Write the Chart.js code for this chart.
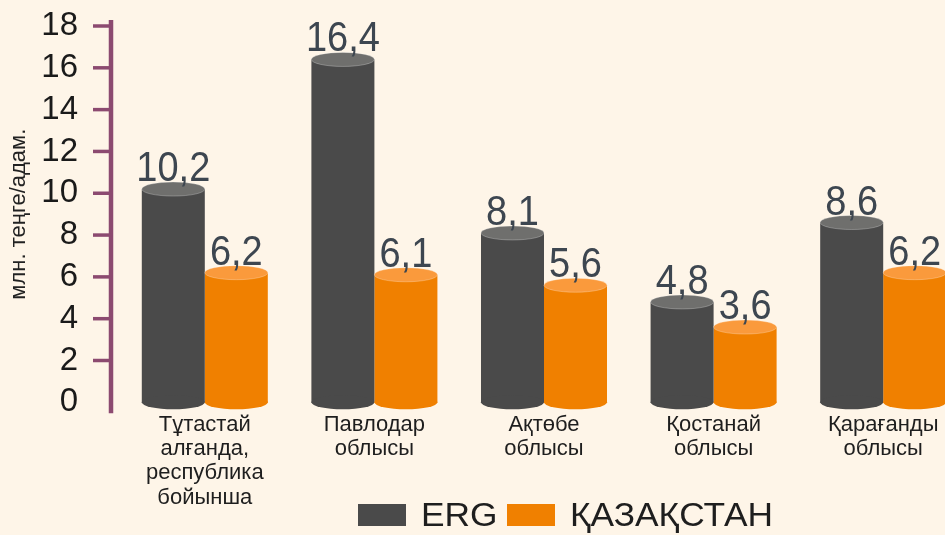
<!DOCTYPE html>
<html>
<head>
<meta charset="utf-8">
<script src="https://cdn.jsdelivr.net/npm/chart.js@4"></script>
<style>
  html, body { margin: 0; padding: 0; background: #fef5e8; overflow: hidden; }
  #wrap { position: relative; width: 945px; height: 535px; overflow: hidden; }
  #legend { position: absolute; left: 358px; top: 496px; display: flex; align-items: center;
    font-family: "Liberation Sans", Arial, sans-serif; font-size: 33px; color: #1e1e1e; }
  #legend span.box { display: inline-block; width: 48px; height: 22px; }
  #legend span.txt { display: inline-block; transform: scaleX(1.07); transform-origin: left center; }
</style>
</head>
<body>
<div id="wrap">
  <canvas id="chart" width="980" height="535"></canvas>
  <div id="legend"></div>
</div>
<script>
const categories = [
  ['Тұтастай', 'алғанда,', 'республика', 'бойынша'],
  ['Павлодар', 'облысы'],
  ['Ақтөбе', 'облысы'],
  ['Қостанай', 'облысы'],
  ['Қарағанды', 'облысы']
];
const seriesNames = ['ERG', 'ҚАЗАҚСТАН'];
const ergValues = [10.2, 16.4, 8.1, 4.8, 8.6];
const kzValues = [6.2, 6.1, 5.6, 3.6, 6.2];
const yTicks = [2, 4, 6, 8, 10, 12, 14, 16, 18];

const bodyColors = ['#4a4a4a', '#f08000'];
const topColors = ['#6f6f6d', '#fa9a3c'];
const axisColor = '#8c4a70';

// cylinder caps + value labels
const cylinders = {
  id: 'cylinders',
  afterDatasetsDraw(chart) {
    const ctx = chart.ctx;
    const ry = 7;
    const labels = [];
    chart.data.datasets.forEach((ds, i) => {
      const meta = chart.getDatasetMeta(i);
      meta.data.forEach((bar, j) => {
        const p = bar.getProps(['x', 'y', 'base', 'width'], true);
        const rx = p.width / 2;
        ctx.save();
        ctx.fillStyle = bodyColors[i];
        ctx.beginPath();
        ctx.ellipse(p.x, p.base, rx, ry, 0, 0, Math.PI * 2);
        ctx.fill();
        ctx.fillStyle = topColors[i];
        ctx.beginPath();
        ctx.ellipse(p.x, p.y, rx, ry, 0, 0, Math.PI * 2);
        ctx.fill();
        ctx.strokeStyle = 'rgba(255,255,255,0.25)';
        ctx.lineWidth = 1;
        ctx.stroke();
        ctx.restore();
        labels.push({ x: p.x, y: p.y - ry - 1, text: String(ds.data[j]).replace('.', ',') });
      });
    });
    ctx.save();
    ctx.font = '40px "Liberation Sans", Arial, sans-serif';
    ctx.fillStyle = '#3d4650';
    ctx.textAlign = 'center';
    ctx.textBaseline = 'alphabetic';
    labels.forEach(l => {
      ctx.save();
      ctx.translate(l.x, l.y);
      ctx.scale(0.95, 1.05);
      ctx.fillText(l.text, 0, 0);
      ctx.restore();
    });
    ctx.restore();
  }
};

// purple y axis line with tick marks
const yAxisLine = {
  id: 'yAxisLine',
  afterDraw(chart) {
    const ctx = chart.ctx;
    const y = chart.scales.y;
    const x0 = chart.chartArea.left - 9;
    ctx.save();
    ctx.strokeStyle = axisColor;
    ctx.lineWidth = 4.5;
    ctx.beginPath();
    ctx.moveTo(x0, y.getPixelForValue(18) - 6);
    ctx.lineTo(x0, y.getPixelForValue(0) + 11);
    ctx.stroke();
    ctx.lineWidth = 3.5;
    yTicks.forEach(v => {
      const py = y.getPixelForValue(v);
      ctx.beginPath();
      ctx.moveTo(x0 - 18, py);
      ctx.lineTo(x0, py);
      ctx.stroke();
    });
    ctx.restore();
  }
};

new Chart(document.getElementById('chart'), {
  type: 'bar',
  data: {
    labels: categories,
    datasets: [
      { label: seriesNames[0], data: ergValues, backgroundColor: bodyColors[0], borderWidth: 0 },
      { label: seriesNames[1], data: kzValues, backgroundColor: bodyColors[1], borderWidth: 0 }
    ]
  },
  options: {
    responsive: false,
    animation: false,
    layout: { padding: { top: 26, right: 12, bottom: 15, left: 0 } },
    datasets: { bar: { categoryPercentage: 0.743, barPercentage: 1 } },
    plugins: { legend: { display: false }, tooltip: { enabled: false } },
    scales: {
      x: {
        grid: { display: false, drawTicks: false },
        border: { display: false },
        ticks: {
          color: '#1e1e1e',
          padding: 10,
          maxRotation: 0,
          autoSkip: false,
          font: { family: '"Liberation Sans", Arial, sans-serif', size: 22, lineHeight: 1.11 }
        }
      },
      y: {
        min: 0,
        max: 18,
        afterFit(scale) {
          scale.width = 120;
          scale.paddingTop = 20;
          scale.paddingBottom = 20;
        },
        grid: { display: false, drawTicks: false },
        border: { display: false },
        ticks: {
          stepSize: 2,
          autoSkip: false,
          padding: 42,
          color: '#1a1a1a',
          font: { family: '"Liberation Sans", Arial, sans-serif', size: 33 }
        },
        title: {
          display: true,
          text: 'млн. теңге/адам.',
          color: '#222',
          padding: { top: 6, bottom: 0 },
          font: { family: '"Liberation Sans", Arial, sans-serif', size: 22 }
        }
      }
    }
  },
  plugins: [cylinders, yAxisLine]
});

const legend = document.getElementById('legend');
seriesNames.forEach((name, i) => {
  const box = document.createElement('span');
  box.className = 'box';
  box.style.background = bodyColors[i];
  const txt = document.createElement('span');
  txt.className = 'txt';
  txt.textContent = name;
  txt.style.margin = i === 0 ? '0 14px 0 15px' : '0 0 0 15px';
  legend.appendChild(box);
  legend.appendChild(txt);
});
</script>
</body>
</html>
